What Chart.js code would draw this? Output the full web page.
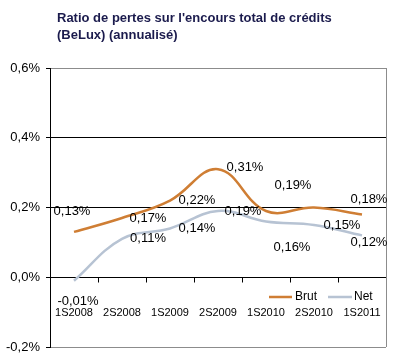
<!DOCTYPE html>
<html>
<head>
<meta charset="utf-8">
<script src="https://cdn.jsdelivr.net/npm/chart.js@4"></script>
<style>
  html, body { margin: 0; padding: 0; background: #fff; }
  #wrap { width: 393px; height: 361px; }
</style>
</head>
<body>
<div id="wrap"><canvas id="chart" width="393" height="361"></canvas></div>
<script>
// données du graphique
const categories = ["1S2008", "2S2008", "1S2009", "2S2009", "1S2010", "2S2010", "1S2011"];
const brut = [0.13, 0.17, 0.22, 0.31, 0.19, 0.20, 0.18];
const net = [-0.01, 0.11, 0.14, 0.19, 0.16, 0.15, 0.12];
const brutLabels = ["0,13%", "0,17%", "0,22%", "0,31%", "0,19%", "", "0,18%"];
const netLabels = ["-0,01%", "0,11%", "0,14%", "0,19%", "0,16%", "0,15%", "0,12%"];
const yTicks = [-0.2, 0, 0.2, 0.4, 0.6];
const titleLines = ["Ratio de pertes sur l'encours total de crédits", "(BeLux) (annualisé)"];

const brutColor = "#CF7E34";
const netColor = "#B7C3D3";
const font = "'Liberation Sans', Arial, sans-serif";

// décalage des étiquettes par rapport aux points
const brutOffsets = [[-2, -20], [26, 0], [27, 0], [27, -2], [27, -26], [0, 0], [7, -15]];
const netOffsets = [[4, 21], [26, 0], [27, 0], [25, 0], [26, 26], [28, 0], [7, 7]];

const decor = {
    id: "decor",
    beforeDatasetsDraw(chart) {
        const ctx = chart.ctx;
        const a = chart.chartArea;
        const y = chart.scales.y;
        const x = chart.scales.x;
        ctx.save();
        // cadre droit
        ctx.strokeStyle = "#8c8c8c";
        ctx.lineWidth = 1;
        ctx.beginPath();
        ctx.moveTo(Math.round(a.right) + 0.5, a.top);
        ctx.lineTo(Math.round(a.right) + 0.5, a.bottom);
        ctx.stroke();
        // graduations sur l'axe 0
        const y0 = Math.round(y.getPixelForValue(0)) + 0.5;
        ctx.strokeStyle = "#000";
        ctx.beginPath();
        for (let i = 1; i < categories.length; i++) {
            const px = Math.round((x.getPixelForValue(i - 1) + x.getPixelForValue(i)) / 2) + 0.5;
            ctx.moveTo(px, y0);
            ctx.lineTo(px, y0 + 5);
        }
        ctx.stroke();
        // libellés des catégories
        ctx.fillStyle = "#000";
        ctx.font = "11px " + font;
        ctx.textAlign = "center";
        ctx.textBaseline = "middle";
        categories.forEach((c, i) => {
            ctx.fillText(c, x.getPixelForValue(i), 313);
        });
        ctx.restore();
    },
    afterDatasetsDraw(chart) {
        const ctx = chart.ctx;
        ctx.save();
        ctx.font = "13px " + font;
        ctx.fillStyle = "#000";
        ctx.textAlign = "center";
        ctx.textBaseline = "middle";
        const draw = (idx, labels, offsets) => {
            chart.getDatasetMeta(idx).data.forEach((pt, i) => {
                if (!labels[i]) return;
                ctx.fillText(labels[i], pt.x + offsets[i][0], pt.y + offsets[i][1]);
            });
        };
        draw(0, brutLabels, brutOffsets);
        draw(1, netLabels, netOffsets);

        // légende
        ctx.lineWidth = 2.5;
        ctx.strokeStyle = brutColor;
        ctx.beginPath(); ctx.moveTo(269, 297); ctx.lineTo(292, 297); ctx.stroke();
        ctx.strokeStyle = netColor;
        ctx.beginPath(); ctx.moveTo(328, 297); ctx.lineTo(352, 297); ctx.stroke();
        ctx.font = "12px " + font;
        ctx.textAlign = "left";
        ctx.fillText("Brut", 295, 297);
        ctx.fillText("Net", 354, 297);

        // titre
        ctx.fillStyle = "#1b1b4d";
        ctx.font = "bold 13px " + font;
        ctx.fillText(titleLines[0], 57, 18);
        ctx.fillText(titleLines[1], 57, 35);
        ctx.restore();
    }
};

new Chart(document.getElementById("chart").getContext("2d"), {
    type: "line",
    data: {
        labels: categories,
        datasets: [{
            label: "Brut",
            data: brut,
            borderColor: brutColor,
            borderWidth: 2.5,
            pointRadius: 0,
            tension: 0.4,
            fill: false
        }, {
            label: "Net",
            data: net,
            borderColor: netColor,
            borderWidth: 2.5,
            pointRadius: 0,
            tension: 0.4,
            fill: false
        }]
    },
    options: {
        responsive: false,
        animation: false,
        layout: { padding: { top: 68, right: 7, bottom: 14, left: 0 } },
        plugins: {
            legend: { display: false },
            tooltip: { enabled: false }
        },
        scales: {
            x: {
                display: false,
                offset: true
            },
            y: {
                min: -0.2,
                max: 0.6,
                afterFit(scale) { scale.width = 50; },
                afterBuildTicks(scale) { scale.ticks = yTicks.map(v => ({ value: v })); },
                ticks: {
                    color: "#000",
                    padding: 6,
                    font: { family: font, size: 13 },
                    callback: v => v.toFixed(1).replace(".", ",") + "%"
                },
                grid: {
                    color: ctx => (ctx.tick && (ctx.tick.value === 0.6 || ctx.tick.value === -0.2)) ? "#8c8c8c" : "#000",
                    tickColor: "#000",
                    tickLength: 4,
                    lineWidth: 1
                },
                border: { color: "#000", width: 1 }
            }
        }
    },
    plugins: [decor]
});
</script>
</body>
</html>
